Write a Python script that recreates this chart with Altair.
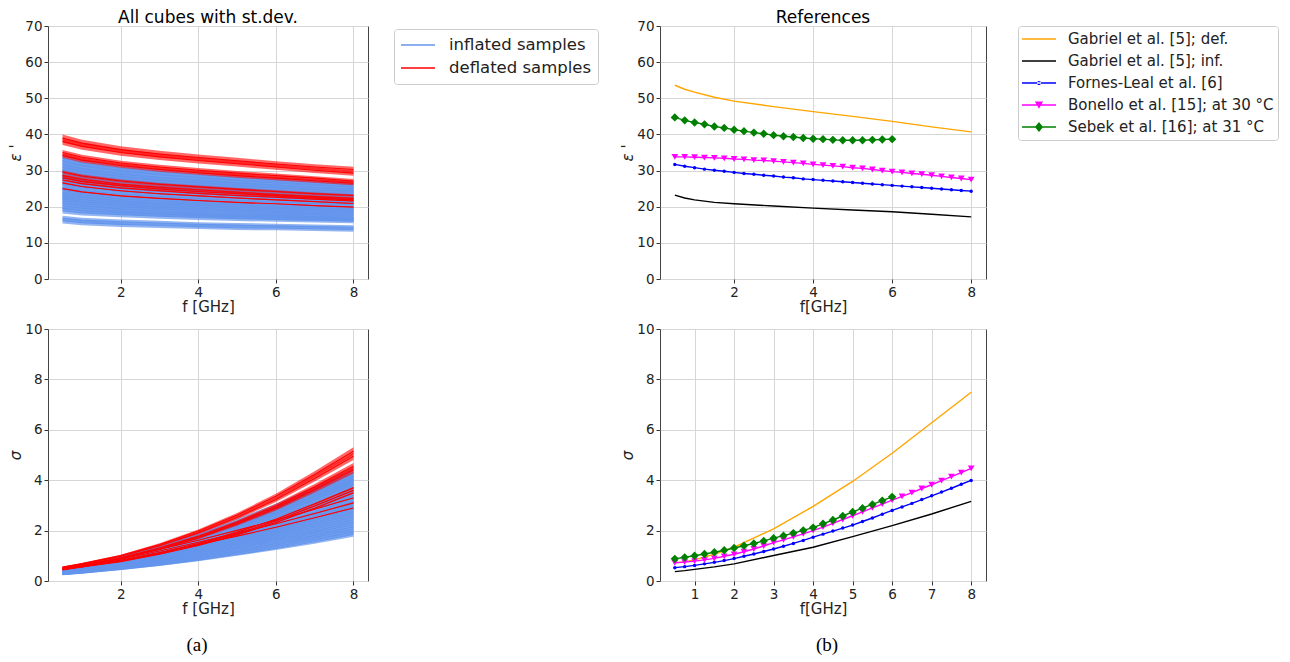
import altair as alt
import pandas as pd

BLUE = "#6495ED"
RED = "#FF0000"
GROUPS = ["inflated samples", "deflated samples"]
F_CUBE = [0.5, 1, 2, 3, 4, 5, 6, 7, 8]

# ---- (a) all cubes: relative permittivity ----
INF_EPS = [
    [16.1, 15.6, 15.1, 14.8, 14.5, 14.2, 14.1, 13.9, 13.7],
    [16.8, 16.3, 15.8, 15.5, 15.1, 14.9, 14.7, 14.5, 14.3],
    [18.9, 18.3, 17.8, 17.4, 17.0, 16.7, 16.5, 16.3, 16.1],
    [19.6, 19.0, 18.4, 18.0, 17.6, 17.3, 17.1, 16.9, 16.7],
    [20.3, 19.6, 18.8, 18.2, 17.8, 17.4, 17.0, 16.7, 16.4],
    [21.0, 20.3, 19.4, 18.9, 18.4, 18.0, 17.6, 17.3, 17.0],
    [21.6, 20.8, 20.0, 19.4, 18.9, 18.5, 18.1, 17.8, 17.5],
    [22.2, 21.4, 20.5, 19.9, 19.4, 19.0, 18.6, 18.3, 18.0],
    [22.8, 22.0, 21.1, 20.5, 20.0, 19.5, 19.1, 18.8, 18.5],
    [23.4, 22.6, 21.6, 21.0, 20.5, 20.0, 19.6, 19.3, 19.0],
    [24.0, 23.2, 22.2, 21.6, 21.0, 20.5, 20.1, 19.8, 19.4],
    [24.7, 23.8, 22.8, 22.2, 21.6, 21.1, 20.7, 20.3, 20.0],
    [25.4, 24.5, 23.5, 22.8, 22.2, 21.7, 21.3, 20.9, 20.6],
    [26.2, 25.3, 24.2, 23.5, 22.9, 22.4, 22.0, 21.6, 21.2],
    [27.0, 26.1, 25.0, 24.2, 23.6, 23.1, 22.6, 22.2, 21.9],
    [27.8, 26.8, 25.7, 25.0, 24.3, 23.8, 23.3, 22.9, 22.5],
    [28.6, 27.5, 26.2, 25.3, 24.6, 24.0, 23.4, 22.8, 22.3],
    [29.4, 28.2, 26.9, 26.0, 25.3, 24.6, 24.0, 23.5, 22.9],
    [30.2, 29.0, 27.6, 26.7, 26.0, 25.3, 24.7, 24.1, 23.6],
    [31.0, 29.8, 28.4, 27.4, 26.7, 26.0, 25.3, 24.7, 24.2],
    [31.8, 30.5, 29.1, 28.1, 27.3, 26.6, 26.0, 25.4, 24.8],
    [32.6, 31.3, 29.8, 28.9, 28.0, 27.3, 26.6, 26.0, 25.4],
    [33.4, 32.1, 30.6, 29.6, 28.7, 28.0, 27.3, 26.7, 26.1],
]
INF_EPS_SD = [0.045, 0.04, 0.04, 0.035, 0.04, 0.035, 0.04, 0.035, 0.04, 0.035, 0.04, 0.035,
              0.04, 0.035, 0.04, 0.035, 0.04, 0.035, 0.04, 0.035, 0.04, 0.035, 0.03]
DEF_EPS = [
    [39.0, 37.6, 35.8, 34.6, 33.6, 32.7, 31.8, 31.0, 30.3],
    [38.0, 36.7, 35.0, 33.8, 32.8, 31.9, 31.0, 30.1, 29.3],
    [35.0, 33.7, 32.1, 31.0, 30.1, 29.3, 28.6, 27.9, 27.1],
    [34.2, 32.9, 31.4, 30.3, 29.4, 28.6, 27.9, 27.2, 26.5],
    [29.6, 28.5, 27.1, 26.2, 25.5, 24.8, 24.2, 23.6, 23.1],
    [28.6, 27.6, 26.2, 25.4, 24.7, 24.0, 23.4, 22.8, 22.3],
    [28.0, 27.0, 25.8, 24.9, 24.2, 23.6, 23.0, 22.4, 21.9],
    [26.6, 25.6, 24.4, 23.6, 23.0, 22.4, 21.9, 21.4, 20.9],
    [25.0, 24.1, 23.0, 22.3, 21.7, 21.2, 20.8, 20.3, 19.9],
    [27.4, 26.4, 25.2, 24.4, 23.7, 23.1, 22.6, 22.1, 21.6],
]
DEF_EPS_SD = [0.025, 0.025, 0.02, 0.02, 0.015, 0.015, 0.01, 0.006, 0.004, 0.008]

# ---- (a) all cubes: conductivity ----
INF_SIG = [
    [0.25, 0.31, 0.46, 0.63, 0.83, 1.05, 1.29, 1.56, 1.85],
    [0.26, 0.33, 0.48, 0.67, 0.87, 1.11, 1.36, 1.65, 1.95],
    [0.27, 0.34, 0.50, 0.70, 0.91, 1.16, 1.43, 1.73, 2.05],
    [0.27, 0.35, 0.51, 0.72, 0.95, 1.21, 1.49, 1.81, 2.15],
    [0.28, 0.36, 0.54, 0.75, 0.99, 1.27, 1.56, 1.90, 2.25],
    [0.29, 0.37, 0.56, 0.78, 1.03, 1.32, 1.63, 1.98, 2.35],
    [0.29, 0.38, 0.57, 0.81, 1.07, 1.37, 1.69, 2.06, 2.45],
    [0.30, 0.39, 0.59, 0.84, 1.11, 1.43, 1.76, 2.15, 2.55],
    [0.31, 0.40, 0.61, 0.87, 1.15, 1.48, 1.83, 2.23, 2.65],
    [0.31, 0.41, 0.63, 0.90, 1.19, 1.53, 1.90, 2.31, 2.75],
    [0.32, 0.42, 0.65, 0.93, 1.23, 1.59, 1.97, 2.40, 2.85],
    [0.33, 0.43, 0.67, 0.96, 1.27, 1.64, 2.03, 2.48, 2.95],
    [0.33, 0.44, 0.68, 0.98, 1.31, 1.69, 2.10, 2.56, 3.05],
    [0.34, 0.45, 0.71, 1.01, 1.35, 1.75, 2.17, 2.64, 3.15],
    [0.35, 0.47, 0.73, 1.05, 1.39, 1.80, 2.24, 2.73, 3.25],
    [0.36, 0.48, 0.76, 1.09, 1.45, 1.88, 2.34, 2.85, 3.40],
    [0.37, 0.50, 0.78, 1.13, 1.52, 1.96, 2.44, 2.98, 3.55],
    [0.38, 0.51, 0.81, 1.18, 1.58, 2.04, 2.54, 3.10, 3.70],
    [0.39, 0.53, 0.84, 1.22, 1.64, 2.12, 2.64, 3.23, 3.85],
    [0.40, 0.54, 0.86, 1.25, 1.68, 2.18, 2.71, 3.31, 3.95],
    [0.41, 0.56, 0.88, 1.28, 1.72, 2.23, 2.78, 3.40, 4.05],
    [0.43, 0.58, 0.91, 1.32, 1.77, 2.29, 2.85, 3.48, 4.15],
    [0.45, 0.60, 0.95, 1.37, 1.84, 2.38, 2.95, 3.61, 4.30],
]
INF_SIG_SD = [0.05, 0.045, 0.05, 0.045, 0.05, 0.045, 0.05, 0.045, 0.05, 0.045, 0.05, 0.045,
              0.05, 0.045, 0.05, 0.045, 0.05, 0.045, 0.05, 0.045, 0.05, 0.045, 0.04]
DEF_SIG = [
    [0.55, 0.69, 1.01, 1.45, 1.98, 2.62, 3.36, 4.23, 5.15],
    [0.54, 0.67, 0.98, 1.40, 1.91, 2.52, 3.23, 4.07, 4.95],
    [0.52, 0.64, 0.92, 1.31, 1.77, 2.33, 2.98, 3.74, 4.55],
    [0.50, 0.62, 0.89, 1.26, 1.71, 2.26, 2.88, 3.62, 4.40],
    [0.48, 0.57, 0.79, 1.09, 1.45, 1.88, 2.38, 2.98, 3.60],
    [0.47, 0.56, 0.77, 1.06, 1.41, 1.83, 2.32, 2.89, 3.50],
    [0.46, 0.60, 0.91, 1.26, 1.62, 2.01, 2.41, 2.85, 3.30],
    [0.45, 0.58, 0.87, 1.19, 1.54, 1.89, 2.27, 2.68, 3.10],
    [0.44, 0.56, 0.83, 1.13, 1.45, 1.78, 2.13, 2.51, 2.90],
    [0.49, 0.59, 0.81, 1.12, 1.49, 1.94, 2.45, 3.06, 3.70],
]
DEF_SIG_SD = [0.03, 0.03, 0.03, 0.03, 0.01, 0.01, 0.005, 0.005, 0.004, 0.01]

# ---- (b) references ----
REF_NAMES = ["Gabriel et al. [5]; def.", "Gabriel et al. [5]; inf.", "Fornes-Leal et al. [6]",
             "Bonello et al. [15]; at 30 °C", "Sebek et al. [16]; at 31 °C"]
REF_COLORS = ["#FFA500", "#000000", "#0000FF", "#FF00FF", "#008000"]

F_GAB = [0.5, 0.75, 1, 1.5, 2, 3, 4, 5, 6, 7, 8]
GAB_DEF_EPS = [53.6, 52.5, 51.7, 50.3, 49.2, 47.7, 46.3, 45.0, 43.6, 42.1, 40.7]
GAB_DEF_SIG = [0.72, 0.77, 0.84, 1.06, 1.34, 2.07, 2.96, 3.95, 5.07, 6.28, 7.49]
GAB_INF_EPS = [23.2, 22.4, 21.9, 21.2, 20.8, 20.2, 19.6, 19.1, 18.6, 17.9, 17.2]
GAB_INF_SIG = [0.37, 0.41, 0.46, 0.56, 0.68, 1.01, 1.34, 1.76, 2.20, 2.66, 3.16]

F_FB = [0.5, 0.75, 1, 1.25, 1.5, 1.75, 2, 2.25, 2.5, 2.75, 3, 3.25, 3.5, 3.75, 4, 4.25,
        4.5, 4.75, 5, 5.25, 5.5, 5.75, 6, 6.25, 6.5, 6.75, 7, 7.25, 7.5, 7.75, 8]
FOR_EPS = [31.7, 31.2, 30.8, 30.4, 30.1, 29.8, 29.5, 29.2, 29.0, 28.7, 28.5, 28.2, 28.0, 27.7,
           27.5, 27.3, 27.1, 26.9, 26.7, 26.5, 26.3, 26.1, 25.9, 25.7, 25.5, 25.3, 25.1, 24.9,
           24.7, 24.5, 24.3]
FOR_SIG = [0.53, 0.57, 0.62, 0.68, 0.74, 0.81, 0.89, 0.98, 1.07, 1.17, 1.27, 1.38, 1.49, 1.61,
           1.74, 1.86, 1.98, 2.10, 2.22, 2.36, 2.50, 2.65, 2.80, 2.94, 3.08, 3.23, 3.38, 3.53,
           3.68, 3.84, 3.99]
BON_EPS = [33.8, 33.8, 33.7, 33.6, 33.5, 33.4, 33.2, 33.1, 32.9, 32.8, 32.6, 32.4, 32.2, 32.0,
           31.7, 31.5, 31.3, 31.1, 30.8, 30.6, 30.3, 30.0, 29.7, 29.5, 29.2, 29.0, 28.7, 28.4,
           28.1, 27.8, 27.5]
BON_SIG = [0.72, 0.75, 0.79, 0.84, 0.90, 0.98, 1.06, 1.16, 1.27, 1.39, 1.52, 1.63, 1.75, 1.87,
           2.00, 2.14, 2.29, 2.44, 2.59, 2.74, 2.90, 3.05, 3.21, 3.36, 3.51, 3.67, 3.82, 3.98,
           4.14, 4.30, 4.47]
F_SEB = [0.5, 0.75, 1, 1.25, 1.5, 1.75, 2, 2.25, 2.5, 2.75, 3, 3.25, 3.5, 3.75, 4, 4.25,
         4.5, 4.75, 5, 5.25, 5.5, 5.75, 6]
SEB_EPS = [44.7, 43.9, 43.3, 42.8, 42.2, 41.8, 41.3, 40.9, 40.5, 40.2, 39.8, 39.5, 39.3, 39.0,
           38.8, 38.7, 38.5, 38.4, 38.4, 38.4, 38.5, 38.6, 38.7]
SEB_SIG = [0.88, 0.94, 1.00, 1.07, 1.14, 1.22, 1.31, 1.40, 1.49, 1.59, 1.70, 1.80, 1.90, 2.01,
           2.12, 2.27, 2.42, 2.58, 2.74, 2.89, 3.04, 3.19, 3.34]

# ---------- tables ----------
rows = []
for group, el, esd, sl, ssd in [(GROUPS[0], INF_EPS, INF_EPS_SD, INF_SIG, INF_SIG_SD),
                                (GROUPS[1], DEF_EPS, DEF_EPS_SD, DEF_SIG, DEF_SIG_SD)]:
    for i in range(len(el)):
        for f, ev, sv in zip(F_CUBE, el[i], sl[i]):
            rows.append(dict(group=group, sid=f"{group[:3]}{i:02d}", f=f,
                             eps=ev, eps_lo=ev * (1 - esd[i]), eps_hi=ev * (1 + esd[i]),
                             sig=sv, sig_lo=sv * (1 - ssd[i]), sig_hi=sv * (1 + ssd[i])))
cube = pd.DataFrame(rows)

rrows = []
for k, (name, fs, es, ss) in enumerate([(REF_NAMES[0], F_GAB, GAB_DEF_EPS, GAB_DEF_SIG),
                                        (REF_NAMES[1], F_GAB, GAB_INF_EPS, GAB_INF_SIG),
                                        (REF_NAMES[2], F_FB, FOR_EPS, FOR_SIG),
                                        (REF_NAMES[3], F_FB, BON_EPS, BON_SIG),
                                        (REF_NAMES[4], F_SEB, SEB_EPS, SEB_SIG)]):
    for f, e, s in zip(fs, es, ss):
        rrows.append(dict(series=name, clr=REF_COLORS[k], f=f, eps=e, sig=s))
ref = pd.DataFrame(rrows)

FONT = "DejaVu Sans"
XDOM = [0.125, 8.375]


def xenc(title, ticks):
    return alt.X("f:Q", scale=alt.Scale(domain=XDOM, nice=False, zero=False),
                 axis=alt.Axis(values=ticks, title=title, grid=True, titleFontWeight="normal"))


def yenc(field, dom, ticks, title):
    return alt.Y(f"{field}:Q", scale=alt.Scale(domain=dom, nice=False, zero=False),
                 axis=alt.Axis(values=ticks, title=title, titleFontStyle="italic", grid=True,
                               titleFontWeight="normal"))


def cube_panel(var, dom, ticks, ytitle, legend, w, h, title):
    x = xenc("f [GHz]", [2, 4, 6, 8])
    layers = []
    for g, clr, op in [(GROUPS[0], BLUE, 0.7), (GROUPS[1], RED, 0.6)]:
        sub = alt.Chart(cube).transform_filter(alt.datum.group == g)
        band = sub.mark_area(color=clr, opacity=op).encode(
            x=x, y=yenc(f"{var}_lo", dom, ticks, ytitle), y2=f"{var}_hi:Q", detail="sid:N")
        line = sub.mark_line(strokeWidth=1.1).encode(
            x=x, y=yenc(var, dom, ticks, ytitle), detail="sid:N",
            color=alt.Color("group:N", scale=alt.Scale(domain=GROUPS, range=[BLUE, RED]),
                            legend=legend))
        layers += [band, line]
    return alt.layer(*layers).properties(width=w, height=h, title=title)


PATH_LINE = "M-1,-0.05H1V0.05H-1Z"
PATHS = [
    PATH_LINE,
    PATH_LINE,
    PATH_LINE + "M-0.12,0A0.12,0.12 0 1,0 0.12,0A0.12,0.12 0 1,0 -0.12,0Z",
    PATH_LINE + "M-0.24,-0.2L0.24,-0.2L0,0.22Z",
    PATH_LINE + "M0,-0.3L0.24,0L0,0.3L-0.24,0Z",
]


def ref_panel(var, dom, ticks, ytitle, xticks, legend, w, h, title):
    base = alt.Chart(ref)
    x = xenc("f[GHz]", xticks)
    y = yenc(var, dom, ticks, ytitle)
    lines = base.mark_line(strokeWidth=1.4).encode(
        x=x, y=y, detail="series:N", color=alt.Color("clr:N", scale=None))
    dots = base.transform_filter(alt.datum.series == REF_NAMES[2]).mark_circle(
        size=12, color="#0000FF", opacity=1).encode(x=x, y=y)
    tri = base.transform_filter(alt.datum.series == REF_NAMES[3]).mark_point(
        shape="triangle-down", filled=True, size=45, color="#FF00FF", opacity=1).encode(x=x, y=y)
    dia = base.transform_filter(alt.datum.series == REF_NAMES[4]).mark_point(
        shape="diamond", filled=True, size=70, color="#008000", opacity=1).encode(x=x, y=y)
    layers = [lines, dots, tri, dia]
    if legend is not None:
        leg = base.transform_filter("datum.f > 100").mark_point(filled=True, opacity=1).encode(
            x=x, y=y,
            color=alt.Color("series:N", scale=alt.Scale(domain=REF_NAMES, range=REF_COLORS),
                            legend=legend),
            shape=alt.Shape("series:N", scale=alt.Scale(domain=REF_NAMES, range=PATHS),
                            legend=legend))
        layers.append(leg)
    return alt.layer(*layers).properties(width=w, height=h, title=title)


leg_a = alt.Legend(title=None, orient="none", legendX=346, legendY=3, symbolType="stroke",
                   symbolSize=1156, symbolStrokeWidth=1.5, labelFontSize=16.5, labelFont=FONT,
                   labelColor="#222", labelOffset=13, clipHeight=20, rowPadding=3, padding=6,
                   fillColor="white", strokeColor="#cccccc", cornerRadius=3, labelLimit=400)
leg_b = alt.Legend(title=None, orient="none", legendX=358, legendY=0,
                   symbolSize=1156, symbolStrokeWidth=0, labelFontSize=15, labelFont=FONT,
                   labelColor="#222", labelOffset=12, clipHeight=18, rowPadding=4, padding=4,
                   fillColor="white", strokeColor="#cccccc", cornerRadius=3, labelLimit=400)

t_a = alt.TitleParams("All cubes with st.dev.", font=FONT, fontSize=17, fontWeight="normal",
                      color="#000", offset=-8)
t_b = alt.TitleParams("References", font=FONT, fontSize=17, fontWeight="normal",
                      color="#000", offset=-8)
cap_a = alt.TitleParams("(a)", orient="bottom", font="Liberation Serif", fontSize=19,
                        fontWeight="normal", color="#000", dx=-11, offset=19)
cap_b = alt.TitleParams("(b)", orient="bottom", font="Liberation Serif", fontSize=19,
                        fontWeight="normal", color="#000", dx=4, offset=19)

TL = cube_panel("eps", [0, 70], list(range(0, 71, 10)), "ε '", leg_a, 320, 253, t_a)
BL = cube_panel("sig", [0, 10], list(range(0, 11, 2)), "σ", None, 320, 252, cap_a)
TR = ref_panel("eps", [0, 70], list(range(0, 71, 10)), "ε '", [2, 4, 6, 8], leg_b, 326, 253, t_b)
BR = ref_panel("sig", [0, 10], list(range(0, 11, 2)), "σ", list(range(1, 9)), None, 326, 252, cap_b)

res = dict(color="independent", shape="independent", x="independent", y="independent")
top = alt.hconcat(TL, TR, spacing=292, bounds="flush").resolve_scale(**res)
bot = alt.hconcat(BL, BR, spacing=292, bounds="flush").resolve_scale(**res)
chart = alt.vconcat(top, bot, spacing=6).resolve_scale(**res).properties(
    padding={"left": 0, "top": 0, "right": 0, "bottom": 0}
).configure(font=FONT).configure_view(stroke="#444", strokeWidth=1).configure_axis(
    labelFont=FONT, labelFontSize=13.5, labelColor="#222", titleFont=FONT, titleFontSize=15,
    titleFontWeight="normal", titleColor="#222", gridColor="#d6d6d6", gridWidth=1,
    domain=False, tickColor="#333", tickSize=4, labelPadding=2, titlePadding=1
)

chart.save("out.html", embed_options={"renderer": "svg", "actions": False})
